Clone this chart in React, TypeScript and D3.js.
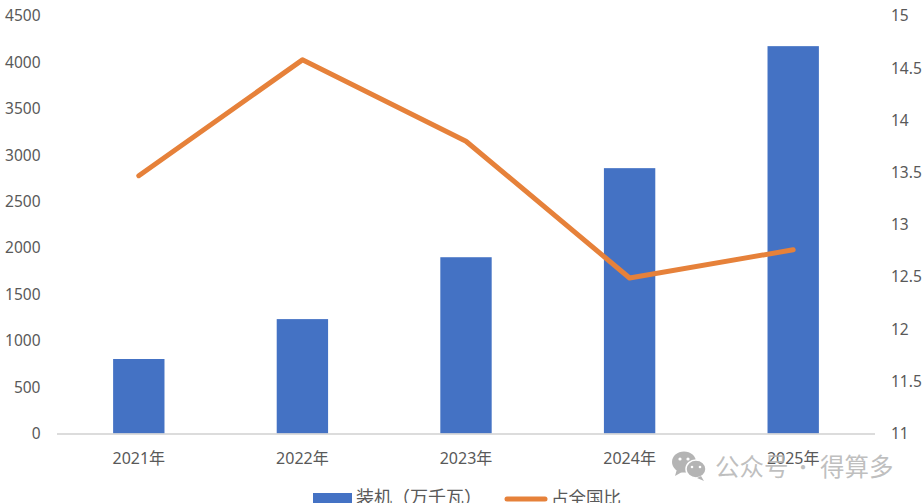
import * as d3 from 'd3'
import React from 'react'

const years = ['2021年', '2022年', '2023年', '2024年', '2025年']
const installed = [803, 1233, 1900, 2860, 4175]
const share = [13.47, 14.58, 13.8, 12.49, 12.76]
const leftTicks = [0, 500, 1000, 1500, 2000, 2500, 3000, 3500, 4000, 4500]
const rightTicks = [11, 11.5, 12, 12.5, 13, 13.5, 14, 14.5, 15]
const legendLabels = ['装机（万千瓦）', '占全国比']
const watermark = ['公众号', '·', '得算多']

const width = 924, height = 503
const font = '"Noto Sans", "Noto Sans CJK SC", sans-serif'
const cjk = '"Noto Sans CJK SC", sans-serif'
const textColor = '#595959'

export default function App() {
  const
    x = d3.scaleBand<string>().domain(years).range([57, 875]).paddingInner(0.686).paddingOuter(0.343),
    yLeft = d3.scaleLinear().domain([0, 4500]).range([433.5, 16]),
    yRight = d3.scaleLinear().domain([11, 15]).range([433.5, 16]),
    center = (d: string) => x(d)! + x.bandwidth() / 2,
    line = d3.line<number>().x((_, i) => center(years[i])).y(d => yRight(d))

  return (
    <svg width={width} height={height} style={{ position: 'fixed', left: 0, top: 0, background: '#fff' }}>
      {installed.map((v, i) => (
        <rect key={years[i]} x={x(years[i])} y={yLeft(v)} width={x.bandwidth()} height={yLeft(0) - yLeft(v)} fill='#4472c4' />
      ))}
      <line x1={57} x2={875} y1={434} y2={434} stroke='#d0d0d0' strokeWidth={1.5} />
      <path d={line(share)!} fill='none' stroke='#e6813a' strokeWidth={5} strokeLinejoin='round' strokeLinecap='round' />

      {leftTicks.map(t => (
        <text key={t} x={40.5} y={yLeft(t)} dy='0.35em' textAnchor='end' fontFamily={font} fontSize={15.5} fill={textColor}>{t}</text>
      ))}
      {rightTicks.map(t => (
        <text key={t} x={891} y={yRight(t)} dy='0.35em' fontFamily={font} fontSize={15.5} fill={textColor}>{t}</text>
      ))}
      {years.map(d => (
        <text key={d} x={center(d)} y={458.5} dy='0.35em' textAnchor='middle' fontFamily={font} fontSize={16} fill={textColor}>{d}</text>
      ))}

      <rect x={313} y={493} width={39} height={10} fill='#4472c4' />
      <text x={356} y={504} fontFamily={cjk} fontSize={18} fill={textColor}>{legendLabels[0]}</text>
      <line x1={507} x2={545} y1={499} y2={499} stroke='#e6813a' strokeWidth={5} strokeLinecap='round' />
      <text x={551} y={504} fontFamily={cjk} fontSize={17.5} fill={textColor}>{legendLabels[1]}</text>

      {/* watermark */}
      <g fill='#b4b4b4'>
        <ellipse cx={684} cy={462} rx={12} ry={10.5} />
        <ellipse cx={696} cy={469} rx={10} ry={9} stroke='#fff' strokeWidth={1.5} />
        <path d='M677 469 l-2 7 l7 -4 z' />
        <path d='M701 476 l3 5 l-7 -3 z' />
      </g>
      <g fill='#fff'>
        <circle cx={680} cy={459} r={1.6} />
        <circle cx={688} cy={459} r={1.6} />
        <circle cx={692} cy={467} r={1.3} />
        <circle cx={700} cy={467} r={1.3} />
      </g>
      <g fontFamily={cjk} fontSize={24.5} fill='#b4b4b4' fillOpacity={0.85}>
        <text x={715} y={476}>{watermark[0]}</text>
        <text x={803} y={475} textAnchor='middle' fontSize={20}>{watermark[1]}</text>
        <text x={820} y={476}>{watermark[2]}</text>
      </g>
    </svg>
  )
}
